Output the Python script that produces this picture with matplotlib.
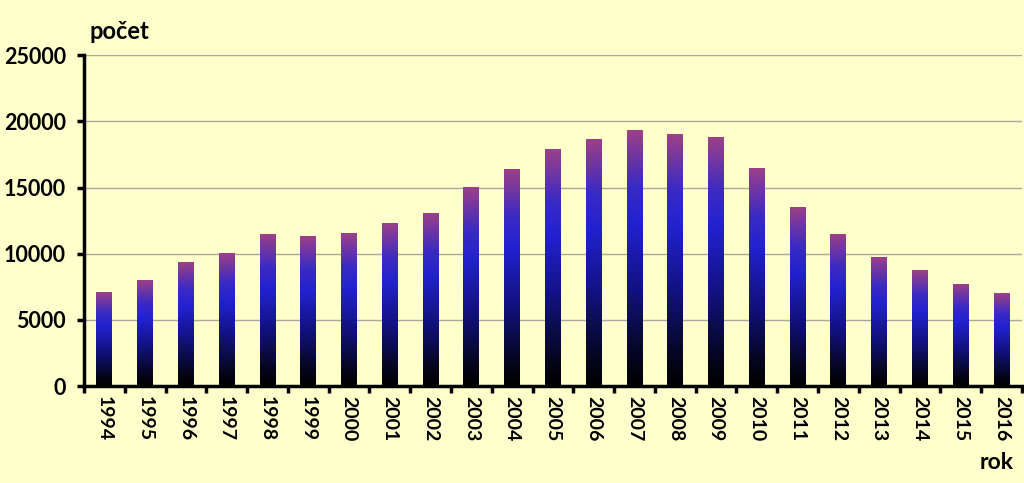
import numpy as np
import matplotlib
matplotlib.use("Agg")
import matplotlib.pyplot as plt
from matplotlib.colors import LinearSegmentedColormap

years = [str(y) for y in range(1994, 2017)]
counts = [7070, 7950, 9330, 9980, 11480, 11330, 11530, 12300, 13030,
          14980, 16400, 17880, 18600, 19280, 19020, 18790, 16480,
          13480, 11480, 9720, 8710, 7700, 6980]

bg = "#FFFFCC"
plt.rcParams["font.family"] = ["Lato", "DejaVu Sans"]
plt.rcParams["font.weight"] = "bold"

# bottom -> top gradient used inside every bar
grad = LinearSegmentedColormap.from_list("bar", [
    (0.0, "#000000"),
    (0.10, "#05051a"),
    (0.38, "#121282"),
    (0.64, "#2222d0"),
    (0.78, "#3a2ac4"),
    (1.0, "#9c4088"),
])

fig = plt.figure(figsize=(10.24, 4.83), dpi=100, facecolor=bg)
ax = fig.add_axes([0.082, 0.2008, 0.916, 0.6846], facecolor=bg)

x = np.arange(len(years))
width = 0.39
bars = ax.bar(x, counts, width=width, color="none", zorder=2)
g = np.linspace(0, 1, 256).reshape(-1, 1)
for b in bars:
    x0, h = b.get_x(), b.get_height()
    ax.imshow(g, cmap=grad, origin="lower", aspect="auto",
              extent=(x0, x0 + b.get_width(), 0, h), zorder=2)

ax.set_xlim(-0.5, len(years) - 0.5)
ax.set_ylim(0, 25000)
ax.set_yticks(range(0, 25001, 5000))
ax.yaxis.grid(True, color="#a8a8a0", linewidth=1.0, zorder=0)
ax.set_axisbelow(True)

ax.set_xticks(x)
ax.set_xticklabels(years, rotation=-90, fontsize=14, fontweight="bold")
ax.set_xticks(np.arange(-0.5, len(years)), minor=True)
ax.tick_params(axis="x", which="major", length=0, pad=7)
ax.tick_params(axis="x", which="minor", length=5, width=2.5, direction="out")
ax.tick_params(axis="y", length=5, width=2.5, labelsize=15.5, pad=8)
for lab in ax.get_yticklabels():
    lab.set_fontweight("bold")

for s in ("top", "right"):
    ax.spines[s].set_visible(False)
for s in ("left", "bottom"):
    ax.spines[s].set_linewidth(2.5)

fig.text(0.087, 0.935, "počet", fontsize=17, fontweight="bold", ha="left", va="center")
fig.text(0.99, 0.043, "rok", fontsize=16.5, fontweight="bold", ha="right", va="center")

fig.savefig("out.png", dpi=100, facecolor=bg)
